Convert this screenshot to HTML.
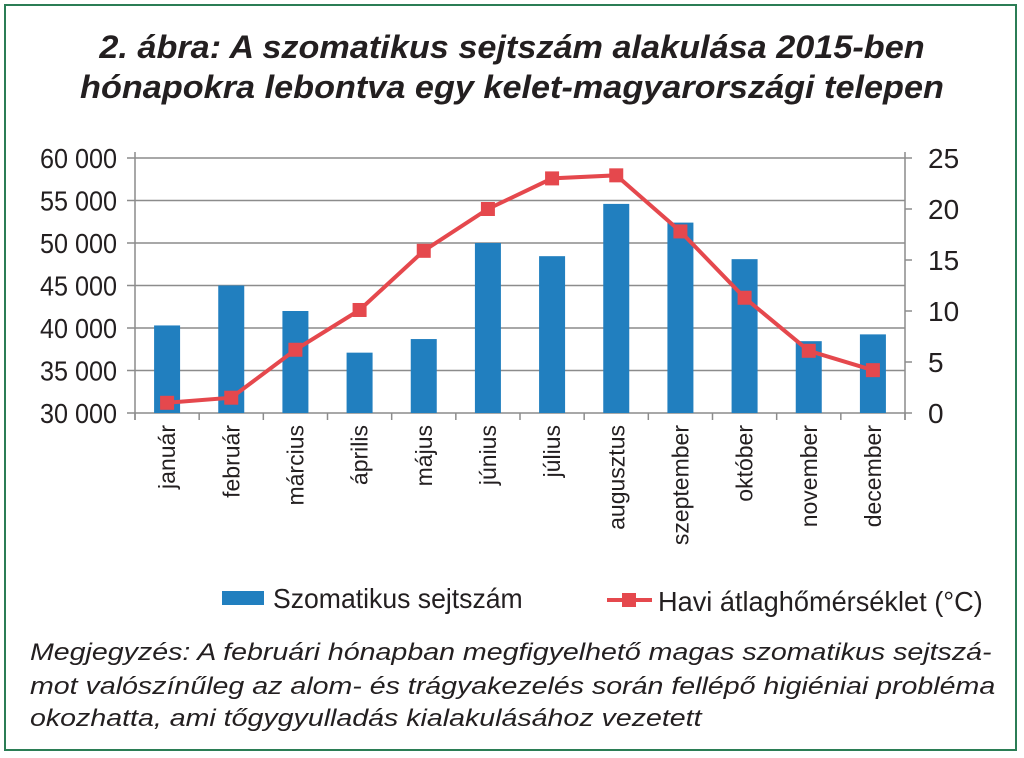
<!DOCTYPE html>
<html><head><meta charset="utf-8"><style>
body{margin:0;width:1024px;height:758px;background:#fff;overflow:hidden;font-family:"Liberation Sans",sans-serif}
#frame{position:absolute;left:4px;top:4px;width:1013px;height:747px;border:2.5px solid #2b7d55;box-sizing:border-box}
.title{position:absolute;left:0;width:1024px;text-align:center;font-weight:bold;font-style:italic;font-size:32px;color:#231f20;transform:scaleX(1.07);transform-origin:512px 0}
.note{position:absolute;left:30px;font-style:italic;font-size:24px;color:#231f20;white-space:nowrap;transform:scaleX(1.19);transform-origin:0 0}
</style></head><body>
<div id="frame"></div>
<div class="title" style="top:29px">2. ábra: A szomatikus sejtszám alakulása 2015-ben</div>
<div class="title" style="top:69px">hónapokra lebontva egy kelet-magyarországi telepen</div>
<svg id="chart" width="1024" height="758" style="position:absolute;left:0;top:0"></svg>
<div class="note" style="top:639px">Megjegyzés: A februári hónapban megfigyelhető magas szomatikus sejtszá-</div>
<div class="note" style="top:673px">mot valószínűleg az alom- és trágyakezelés során fellépő higiéniai probléma</div>
<div class="note" style="top:705px">okozhatta, ami tőgygyulladás kialakulásához vezetett</div>
<script>
const months=["január","február","március","április","május","június","július","augusztus","szeptember","október","november","december"];
const scc=[40300,45000,42000,37100,38700,50000,48450,54600,52400,48100,38450,39250];
const temp=[1.0,1.5,6.2,10.1,15.9,20.0,23.0,23.3,17.8,11.3,6.1,4.2];
const leftTicks=[30000,35000,40000,45000,50000,55000,60000];
const rightTicks=[0,5,10,15,20,25];
const NS="http://www.w3.org/2000/svg";
const svg=document.getElementById('chart');
const X0=135,X1=905,Y0=413,Y1=158;
const band=(X1-X0)/months.length;
const xC=i=>X0+band*(i+0.5);
const yL=v=>Y0-(v-30000)/30000*(Y0-Y1);
const yR=v=>Y0-v/25*(Y0-Y1);
function mk(t,a,p){const e=document.createElementNS(NS,t);for(const k in a)e.setAttribute(k,a[k]);(p||svg).appendChild(e);return e;}
leftTicks.forEach(v=>{
 const y=yL(v);
 const g=mk('line',{x1:X0-8,x2:X1,y1:y,y2:y,stroke:'#8c8c8c','stroke-width':1.5});
 
 
 const t=mk('text',{x:117,y:y+10,'text-anchor':'end','font-size':28,fill:'#231f20',transform:`translate(117 0) scale(0.9 1) translate(-117 0)`});
 t.textContent=String(v).replace(/(\d+)(\d{3})$/,'$1 $2');
 
 
});
rightTicks.forEach(v=>{
 const y=yR(v);
 mk('line',{x1:X1,x2:X1+7,y1:y,y2:y,stroke:'#8c8c8c','stroke-width':1.5});
 const t=mk('text',{x:928,y:y+10,'text-anchor':'start','font-size':28,fill:'#231f20'});
 t.textContent=v;
 
 
});
mk('line',{x1:X0,x2:X0,y1:Y1-6,y2:Y0+7,stroke:'#8c8c8c','stroke-width':1.5});
mk('line',{x1:X1,x2:X1,y1:Y1-6,y2:Y0+7,stroke:'#8c8c8c','stroke-width':1.5});
for(let i=0;i<=months.length;i++){const x=X0+band*i;mk('line',{x1:x,x2:x,y1:Y0,y2:Y0+7,stroke:'#8c8c8c','stroke-width':1.5});}
scc.forEach((v,i)=>{
 const r=mk('rect',{x:xC(i)-13,y:yL(v),width:26,height:Y0-yL(v),fill:'#217fbf'});
 
 
});
const pl=mk('polyline',{points:temp.map((v,i)=>xC(i)+','+yR(v)).join(' '),fill:'none',stroke:'#e5484d','stroke-width':4});


temp.forEach((v,i)=>{
 const m=mk('rect',{x:xC(i)-7,y:yR(v)-7,width:14,height:14,fill:'#e5484d'});
 
 
});
months.forEach((m,i)=>{
 const x=xC(i)+8,y=425;
 const t=mk('text',{x:x,y:y,'text-anchor':'end','font-size':23,fill:'#231f20',transform:`rotate(-90 ${x} ${y})`});
 t.textContent=m;
 
 
});
const lb=mk('rect',{x:222,y:591,width:42,height:14,fill:'#217fbf'});


const lt=mk('text',{x:273,y:608,'font-size':28,fill:'#231f20',transform:'translate(273 0) scale(0.95 1) translate(-273 0)'});lt.textContent='Szomatikus sejtszám';


const ll=mk('line',{x1:607,x2:652,y1:600,y2:600,stroke:'#e5484d','stroke-width':4});


mk('rect',{x:622,y:593,width:14,height:14,fill:'#e5484d'});
const lt2=mk('text',{x:658,y:611,'font-size':28,fill:'#231f20',transform:'translate(658 0) scale(0.97 1) translate(-658 0)'});lt2.textContent='Havi átlaghőmérséklet (°C)';


</script>
</body></html>
